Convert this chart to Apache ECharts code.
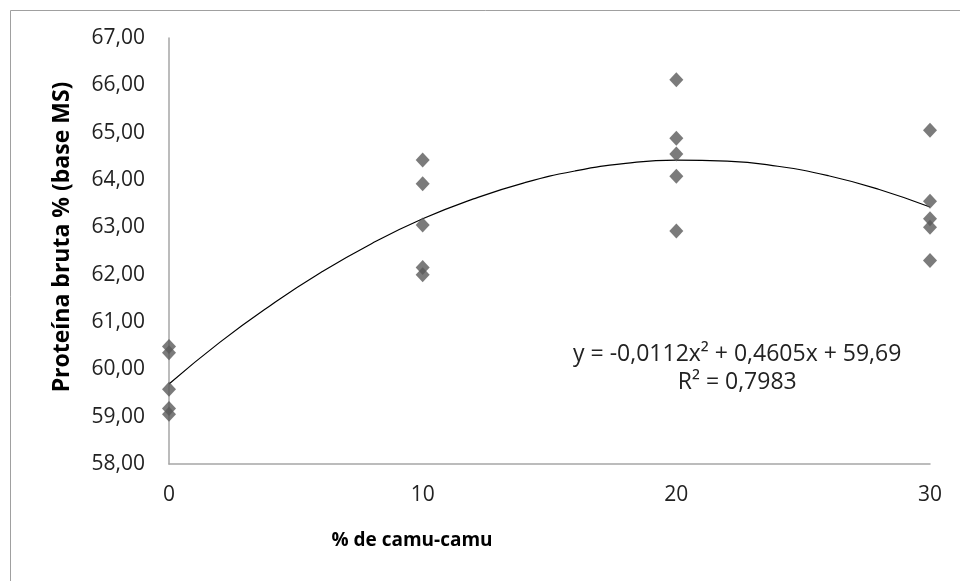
<!DOCTYPE html>
<html>
<head>
<meta charset="utf-8">
<script src="https://cdn.jsdelivr.net/npm/echarts@6/dist/echarts.min.js"></script>
<style>html,body{margin:0;padding:0;background:#fff}#c{width:960px;height:581px}</style>
</head>
<body>
<div id="c"></div>
<script>
// Observed data (x = % de camu-camu, y = Proteína bruta %)
var xLevels = [0, 10, 20, 30];
var obs0  = [60.48, 60.35, 59.58, 59.17, 59.05];
var obs10 = [64.42, 63.92, 63.05, 62.15, 62.00];
var obs20 = [66.12, 64.88, 64.55, 64.08, 62.92];
var obs30 = [65.05, 63.55, 63.18, 63.00, 62.30];
// Trend curve values
var trendX = [0, 2, 4, 6, 8, 10, 12, 14, 16, 18, 20, 22, 24, 26, 28, 30];
var trendY = [59.69, 60.57, 61.35, 62.05, 62.66, 63.18, 63.60, 63.94, 64.19, 64.35, 64.42, 64.40, 64.29, 64.09, 63.80, 63.43];
var yTicks = [58, 59, 60, 61, 62, 63, 64, 65, 66, 67];
var xTicks = [0, 10, 20, 30];
var eqLine1 = 'y = -0,0112x\u00B2 + 0,4605x + 59,69';
var eqLine2 = 'R\u00B2 = 0,7983';
var xTitle = '% de camu-camu';
var yTitle = 'Proteína bruta % (base MS)';

var groups = [obs0, obs10, obs20, obs30];
var scatterData = [];
groups.forEach(function (g, i) { g.forEach(function (v) { scatterData.push([xLevels[i], v]); }); });
var lineData = trendX.map(function (x, i) { return [x, trendY[i]]; });

var FONT = 'Open Sans';
var chart = echarts.init(document.getElementById('c'));
chart.setOption({
  animation: false,
  backgroundColor: '#fff',
  textStyle: { fontFamily: FONT },
  grid: { left: 169, right: 30, top: 38, bottom: 117 },
  xAxis: {
    type: 'value', min: xTicks[0], max: xTicks[xTicks.length - 1], interval: 10,
    axisLine: { show: true, lineStyle: { color: '#a6a6a6', width: 1.5 } },
    axisTick: { show: false },
    splitLine: { show: false },
    axisLabel: { fontFamily: FONT, fontSize: 21, color: '#222', margin: 21 }
  },
  yAxis: {
    type: 'value', min: yTicks[0], max: yTicks[yTicks.length - 1], interval: 1,
    axisLine: { show: true, lineStyle: { color: '#a6a6a6', width: 1.5 } },
    axisTick: { show: false },
    splitLine: { show: false },
    axisLabel: { fontFamily: FONT, fontSize: 21, color: '#222', margin: 24,
      formatter: function (v) { return v.toFixed(2).replace('.', ','); } }
  },
  series: [
    {
      type: 'line', data: lineData, smooth: true, showSymbol: false, symbol: 'none',
      lineStyle: { color: '#000', width: 1.2 }, z: 2
    },
    {
      type: 'scatter', data: scatterData, symbol: 'diamond', symbolSize: [14, 15],
      itemStyle: { color: '#5a5a5a' }, z: 3
    }
  ]
});
var p1 = chart.convertToPixel({ gridIndex: 0 }, [22.4, 60.31]);
var p2 = chart.convertToPixel({ gridIndex: 0 }, [22.4, 59.72]);
chart.setOption({
  graphic: [
    { id: 'border', type: 'rect', shape: { x: 10.5, y: 10.5, width: 1000, height: 1000 }, style: { fill: 'none', stroke: '#a0a0a0', lineWidth: 1 }, silent: true },
    { id: 'eq1', type: 'text', x: p1[0], y: p1[1], style: { text: eqLine1, fontFamily: FONT, fontSize: 23, fill: '#222', align: 'center', verticalAlign: 'middle' } },
    { id: 'eq2', type: 'text', x: p2[0], y: p2[1], style: { text: eqLine2, fontFamily: FONT, fontSize: 23, fill: '#222', align: 'center', verticalAlign: 'middle' } },
    { id: 'xt', type: 'text', x: 412, y: 541, style: { text: xTitle, fontFamily: FONT, fontWeight: 'bold', fontSize: 19, fill: '#000', align: 'center', verticalAlign: 'middle' } },
    { id: 'yt', type: 'text', x: 62, y: 237, rotation: Math.PI / 2, style: { text: yTitle, fontFamily: FONT, fontWeight: 'bold', fontSize: 23, fill: '#000', align: 'center', verticalAlign: 'middle' } }
  ]
});
</script>
</body>
</html>
